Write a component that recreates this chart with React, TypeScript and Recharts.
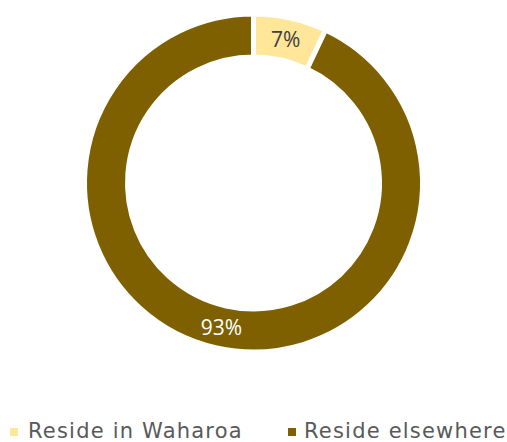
import { PieChart, Pie, Cell, Legend } from 'recharts';

const CATEGORIES = ['Reside in Waharoa', 'Reside elsewhere'];
const SHARES = [7, 93];
const COLORS = ['#FFE699', '#7F6000'];
const LABEL_COLORS = ['#404040', '#FFFFFF'];

const data = CATEGORIES.map((name, i) => ({ name, value: SHARES[i] }));

const RADIAN = Math.PI / 180;

const renderLabel = (props: any) => {
    const { cx, cy, midAngle, innerRadius, outerRadius, index, value } = props;
    const r = (innerRadius + outerRadius) / 2;
    const x = cx + r * Math.cos(-midAngle * RADIAN);
    const y = cy + r * Math.sin(-midAngle * RADIAN);
    return (
        <text
            x={x}
            y={y}
            fill={LABEL_COLORS[index]}
            textAnchor="middle"
            dominantBaseline="central"
            fontFamily="Open Sans, sans-serif"
            fontSize={21}
        >
            {value}%
        </text>
    );
};

const legendSlots = [
    { square: 10, text: 28 },
    { square: 288, text: 304 },
];

const renderLegend = () => (
    <div style={{ position: 'relative', width: 507, height: 27 }}>
        {CATEGORIES.map((name, i) => (
            <div key={name}>
                <div
                    style={{
                        position: 'absolute',
                        left: legendSlots[i].square,
                        top: 13,
                        width: 8,
                        height: 8,
                        background: COLORS[i],
                    }}
                />
                <div
                    style={{
                        position: 'absolute',
                        left: legendSlots[i].text,
                        top: 3,
                        fontFamily: "'DejaVu Sans', sans-serif",
                        fontSize: 21,
                        letterSpacing: 1.2,
                        lineHeight: '27px',
                        color: '#595959',
                        whiteSpace: 'nowrap',
                    }}
                >
                    {name}
                </div>
            </div>
        ))}
    </div>
);

export default function App() {
    return (
        <div style={{ position: 'absolute', left: 0, top: 0, background: '#fff' }}>
            <PieChart width={507} height={442} margin={{ top: 0, right: 0, bottom: 0, left: 0 }}>
                <Pie
                    data={data}
                    dataKey="value"
                    cx={253.5}
                    cy={183}
                    innerRadius={126}
                    outerRadius={169}
                    startAngle={90}
                    endAngle={-270}
                    stroke="#FFFFFF"
                    strokeWidth={5}
                    label={renderLabel}
                    labelLine={false}
                    isAnimationActive={false}
                >
                    {data.map((entry, index) => (
                        <Cell key={entry.name} fill={COLORS[index]} />
                    ))}
                </Pie>
                <Legend
                    content={renderLegend}
                    wrapperStyle={{ position: 'absolute', left: 0, top: 415, width: 507, height: 27 }}
                />
            </PieChart>
        </div>
    );
}
